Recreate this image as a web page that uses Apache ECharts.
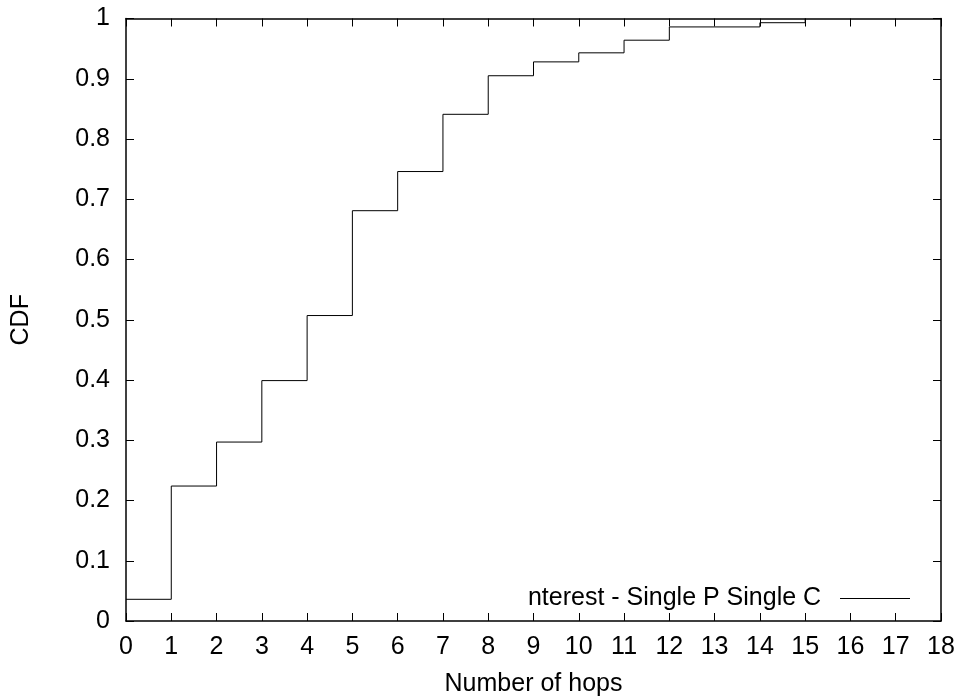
<!DOCTYPE html>
<html>
<head>
<meta charset="utf-8">
<style>
  html, body { margin: 0; padding: 0; background: #fff; }
  #chart { width: 960px; height: 700px; }
</style>
<script src="https://cdn.jsdelivr.net/npm/echarts@6/dist/echarts.min.js"></script>
</head>
<body>
<div id="chart"></div>
<script>
  // values
  const hops = [0, 1, 2, 3, 4, 5, 6, 7, 8, 9, 10, 11, 12, 13, 14, 15];
  const cdf = [0.036, 0.224, 0.297, 0.399, 0.507, 0.681, 0.746, 0.841, 0.905, 0.928, 0.943, 0.964, 0.986, 0.986, 0.993, 1.0];
  const seriesName = 'nterest - Single P Single C';
  const xTitle = 'Number of hops';
  const yTitle = 'CDF';

  const font = 'Liberation Sans';
  const fontSize = 25;

  const chart = echarts.init(document.getElementById('chart'), null, { renderer: 'canvas' });

  // gnuplot-style frame: axis line plus inward ticks on every side
  const frameAxis = function (extra) {
    return Object.assign({
      type: 'value',
      axisLine: { show: true, onZero: false, lineStyle: { color: '#000', width: 1.5 } },
      axisTick: { show: true, inside: true, length: 8, lineStyle: { color: '#000', width: 1 } },
      axisLabel: { show: false },
      splitLine: { show: false }
    }, extra);
  };

  chart.setOption({
    animation: false,
    backgroundColor: '#fff',
    textStyle: { fontFamily: font, color: '#000' },
    grid: {
      left: 126, right: 19, top: 18.5, bottom: 79,
      containLabel: false,
      outerBoundsMode: 'none'
    },
    legend: {
      right: 45,
      bottom: 84,
      align: 'right',
      icon: 'rect',
      itemWidth: 70,
      itemHeight: 1,
      formatter: function (name) { return name + '  '; },
      textStyle: { fontFamily: font, fontSize: fontSize, color: '#000' },
      data: [seriesName]
    },
    xAxis: [
      frameAxis({
        min: 0, max: 18, interval: 1,
        position: 'bottom',
        name: xTitle,
        nameLocation: 'middle',
        nameGap: 51,
        nameTextStyle: { fontFamily: font, fontSize: fontSize, color: '#000' },
        axisLabel: { show: true, margin: 14, fontFamily: font, fontSize: fontSize, color: '#000' }
      }),
      frameAxis({ min: 0, max: 18, interval: 1, position: 'top' })
    ],
    yAxis: [
      frameAxis({
        min: 0, max: 1, interval: 0.1,
        position: 'left',
        name: yTitle,
        nameLocation: 'middle',
        nameGap: 92,
        nameTextStyle: { fontFamily: font, fontSize: fontSize, color: '#000' },
        axisLabel: {
          show: true, margin: 16, fontFamily: font, fontSize: fontSize, color: '#000',
          formatter: function (v) { return String(+v.toFixed(1)); }
        }
      }),
      frameAxis({ min: 0, max: 1, interval: 0.1, position: 'right' })
    ],
    series: [
      {
        name: seriesName,
        type: 'line',
        step: 'end',
        symbol: 'none',
        data: hops.map(function (h, i) { return [h, cdf[i]]; }),
        lineStyle: { color: '#000', width: 1 },
        itemStyle: { color: '#000' }
      }
    ]
  });
</script>
</body>
</html>
